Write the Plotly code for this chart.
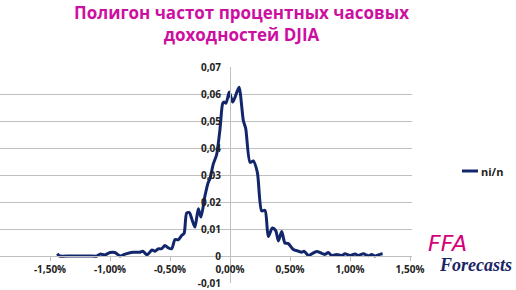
import plotly.graph_objects as go

# Hourly percentage returns of DJIA (fractions) and relative frequency ni/n
returns = [-0.0144, -0.0142, -0.01333, -0.0125, -0.01167, -0.01108, -0.01083, -0.01042, -0.0100, -0.00958,
           -0.00917, -0.00867, -0.00808, -0.0075, -0.00725, -0.00692, -0.0065, -0.00625, -0.0060, -0.00569,
           -0.00542, -0.00514, -0.00486, -0.00458, -0.00431, -0.00403, -0.00383, -0.00361, -0.00339, -0.00319,
           -0.00292, -0.00264, -0.00242, -0.00208, -0.00181, -0.00167, -0.00139, -0.00111, -0.00083, -0.00061,
           -0.0005, -0.00033, -0.00006, 0.00022, 0.00042, 0.00075, 0.00111, 0.00131, 0.00167, 0.00194,
           0.00228, 0.00264, 0.00292, 0.00319, 0.00353, 0.00381, 0.00403, 0.00431, 0.00458, 0.00486,
           0.00528, 0.00569, 0.00597, 0.00617, 0.00653, 0.00681, 0.00722, 0.00764, 0.00792, 0.00819,
           0.00847, 0.00889, 0.00931, 0.00958, 0.0100, 0.01042, 0.01069, 0.01111, 0.01153, 0.01181,
           0.01208, 0.0125, 0.01272]
freq = [0.0008, 0.0, 0.0, 0.0, 0.0, 0.0, 0.0007, 0.0004, 0.0013, 0.0013,
        0.0, 0.0008, 0.0014, 0.0014, 0.0018, 0.0004, 0.0022, 0.0018, 0.0026, 0.0027,
        0.0039, 0.0030, 0.0027, 0.0061, 0.0060, 0.0076, 0.0083, 0.0159, 0.0161, 0.0138,
        0.0107, 0.0175, 0.0144, 0.0224, 0.0273, 0.0286, 0.0341, 0.0376, 0.0472, 0.0565,
        0.0570, 0.0566, 0.0607, 0.0570, 0.0588, 0.0625, 0.0502, 0.0472, 0.0347, 0.0352,
        0.0310, 0.0167, 0.0169, 0.0072, 0.0104, 0.0094, 0.0056, 0.0091, 0.0048, 0.0046,
        0.0024, 0.0018, 0.0014, 0.0018, 0.0002, 0.0008, 0.0017, 0.0010, 0.0006, 0.0013,
        0.0002, 0.0006, 0.0002, 0.0008, 0.0002, 0.0007, 0.0002, 0.0008, 0.0001, 0.0006,
        0.0, 0.0006, 0.0008]

x_ticks = [-0.015, -0.01, -0.005, 0.0, 0.005, 0.01, 0.015]
x_ticktext = ["-1,50%", "-1,00%", "-0,50%", "0,00%", "0,50%", "1,00%", "1,50%"]
y_ticks = [-0.01, 0.0, 0.01, 0.02, 0.03, 0.04, 0.05, 0.06, 0.07]
y_ticktext = ["-0,01", "0", "0,01", "0,02", "0,03", "0,04", "0,05", "0,06", "0,07"]

series_name = "ni/n"
title_text = "Полигон частот процентных часовых<br>доходностей DJIA"

LINE = "#12276B"
GRID = "#BFBFBF"
LABEL_FONT = dict(family="Open Sans", size=10, color="#222222", weight="bold")

fig = go.Figure()
fig.add_trace(go.Scatter(
    x=returns, y=freq, mode="lines", name=series_name,
    line=dict(color=LINE, width=3, shape="spline", smoothing=0.7),
    showlegend=False,
))

xr = [-0.019167, 0.015167]
yr = [-0.01, 0.07]

fig.update_layout(
    width=516, height=290,
    margin=dict(l=0, r=104, t=67, b=7),
    paper_bgcolor="white", plot_bgcolor="white",
    showlegend=False,
    xaxis=dict(
        range=xr, anchor="free", position=0.125,
        tickvals=x_ticks, ticktext=x_ticktext, tickfont=LABEL_FONT,
        showgrid=False, zeroline=False,
        showline=True, linecolor=GRID, linewidth=1,
        ticks="outside", ticklen=4, tickcolor=GRID,
    ),
    yaxis=dict(
        range=yr, anchor="free", position=(0 - xr[0]) / (xr[1] - xr[0]),
        tickvals=y_ticks, ticktext=y_ticktext, tickfont=LABEL_FONT,
        showgrid=True, gridcolor=GRID, gridwidth=1, zeroline=False,
        showline=True, linecolor=GRID, linewidth=1,
        ticks="", ticklabelstandoff=7,
    ),
    annotations=[
        dict(text=title_text, xref="paper", yref="paper",
             x=(242 - 0) / 412, y=1 + (67 + 1) / 216, xanchor="center", yanchor="top",
             showarrow=False, align="center",
             font=dict(family="Open Sans", size=17, color="#CC0FA0", weight="bold")),
        dict(text=series_name, xref="paper", yref="paper",
             x=479 / 412, y=(283 - 171) / 216, xanchor="left", yanchor="middle",
             showarrow=False, font=dict(family="Open Sans", size=11, color="#222222", weight="bold")),
        dict(text="FFA", xref="paper", yref="paper",
             x=447 / 412, y=(283 - 243) / 216, xanchor="center", yanchor="middle",
             showarrow=False,
             font=dict(family="DejaVu Sans", size=22, color="#D4007A", style="italic", weight=300)),
        dict(text="Forecasts", xref="paper", yref="paper",
             x=475 / 412, y=(283 - 265) / 216, xanchor="center", yanchor="middle",
             showarrow=False,
             font=dict(family="Liberation Serif", size=18, color="#1A2466", style="italic", weight="bold")),
    ],
    shapes=[
        dict(type="line", xref="paper", yref="paper",
             x0=462 / 412, x1=478 / 412, y0=(283 - 171) / 216, y1=(283 - 171) / 216,
             line=dict(color=LINE, width=3)),
    ],
)

fig.write_html("out.html")
